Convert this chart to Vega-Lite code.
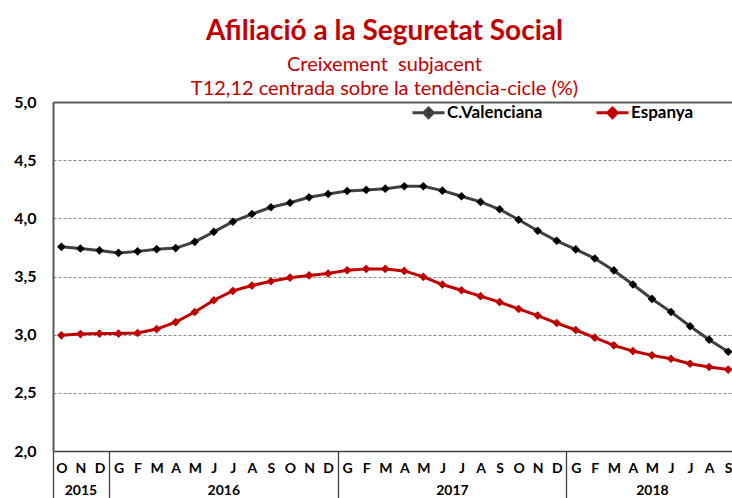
{
  "$schema": "https://vega.github.io/schema/vega-lite/v6.json",
  "width": 679,
  "height": 349,
  "autosize": {"type": "none"},
  "padding": {"left": 53, "top": 102, "right": 0, "bottom": 47},
  "background": "white",
  "config": {"font": "Lato", "view": {"stroke": null}},
  "title": {
    "text": "Afiliació a la Seguretat Social",
    "subtitle": ["Creixement\u00a0 subjacent", "T12,12 centrada sobre la tendència-cicle (%)"],
    "anchor": "middle",
    "frame": "group",
    "dx": -8,
    "font": "Lato",
    "fontSize": 28,
    "fontWeight": "bold",
    "color": "#C00000",
    "subtitleFont": "Lato",
    "subtitleFontSize": 20,
    "subtitleColor": "#C00000",
    "subtitleLineHeight": 24,
    "subtitlePadding": 9,
    "offset": -5
  },
  "data": {"values": [
    {"i":0,"serie":"C.Valenciana","v":3.755},{"i":1,"serie":"C.Valenciana","v":3.741},{"i":2,"serie":"C.Valenciana","v":3.724},
    {"i":3,"serie":"C.Valenciana","v":3.703},{"i":4,"serie":"C.Valenciana","v":3.716},{"i":5,"serie":"C.Valenciana","v":3.735},
    {"i":6,"serie":"C.Valenciana","v":3.744},{"i":7,"serie":"C.Valenciana","v":3.798},{"i":8,"serie":"C.Valenciana","v":3.884},
    {"i":9,"serie":"C.Valenciana","v":3.971},{"i":10,"serie":"C.Valenciana","v":4.037},{"i":11,"serie":"C.Valenciana","v":4.095},
    {"i":12,"serie":"C.Valenciana","v":4.134},{"i":13,"serie":"C.Valenciana","v":4.181},{"i":14,"serie":"C.Valenciana","v":4.209},
    {"i":15,"serie":"C.Valenciana","v":4.235},{"i":16,"serie":"C.Valenciana","v":4.244},{"i":17,"serie":"C.Valenciana","v":4.255},
    {"i":18,"serie":"C.Valenciana","v":4.276},{"i":19,"serie":"C.Valenciana","v":4.276},{"i":20,"serie":"C.Valenciana","v":4.238},
    {"i":21,"serie":"C.Valenciana","v":4.19},{"i":22,"serie":"C.Valenciana","v":4.141},{"i":23,"serie":"C.Valenciana","v":4.078},
    {"i":24,"serie":"C.Valenciana","v":3.988},{"i":25,"serie":"C.Valenciana","v":3.893},{"i":26,"serie":"C.Valenciana","v":3.807},
    {"i":27,"serie":"C.Valenciana","v":3.733},{"i":28,"serie":"C.Valenciana","v":3.655},{"i":29,"serie":"C.Valenciana","v":3.552},
    {"i":30,"serie":"C.Valenciana","v":3.431},{"i":31,"serie":"C.Valenciana","v":3.307},{"i":32,"serie":"C.Valenciana","v":3.195},
    {"i":33,"serie":"C.Valenciana","v":3.072},{"i":34,"serie":"C.Valenciana","v":2.957},{"i":35,"serie":"C.Valenciana","v":2.853},
    {"i":0,"serie":"Espanya","v":2.994},{"i":1,"serie":"Espanya","v":3.005},{"i":2,"serie":"Espanya","v":3.009},
    {"i":3,"serie":"Espanya","v":3.009},{"i":4,"serie":"Espanya","v":3.014},{"i":5,"serie":"Espanya","v":3.048},
    {"i":6,"serie":"Espanya","v":3.108},{"i":7,"serie":"Espanya","v":3.195},{"i":8,"serie":"Espanya","v":3.296},
    {"i":9,"serie":"Espanya","v":3.376},{"i":10,"serie":"Espanya","v":3.422},{"i":11,"serie":"Espanya","v":3.459},
    {"i":12,"serie":"Espanya","v":3.49},{"i":13,"serie":"Espanya","v":3.509},{"i":14,"serie":"Espanya","v":3.526},
    {"i":15,"serie":"Espanya","v":3.554},{"i":16,"serie":"Espanya","v":3.565},{"i":17,"serie":"Espanya","v":3.565},
    {"i":18,"serie":"Espanya","v":3.548},{"i":19,"serie":"Espanya","v":3.497},{"i":20,"serie":"Espanya","v":3.431},
    {"i":21,"serie":"Espanya","v":3.382},{"i":22,"serie":"Espanya","v":3.331},{"i":23,"serie":"Espanya","v":3.28},
    {"i":24,"serie":"Espanya","v":3.221},{"i":25,"serie":"Espanya","v":3.164},{"i":26,"serie":"Espanya","v":3.1},
    {"i":27,"serie":"Espanya","v":3.04},{"i":28,"serie":"Espanya","v":2.974},{"i":29,"serie":"Espanya","v":2.908},
    {"i":30,"serie":"Espanya","v":2.859},{"i":31,"serie":"Espanya","v":2.822},{"i":32,"serie":"Espanya","v":2.793},
    {"i":33,"serie":"Espanya","v":2.75},{"i":34,"serie":"Espanya","v":2.722},{"i":35,"serie":"Espanya","v":2.7}
  ]},
  "encoding": {
    "y": {
      "field": "v",
      "type": "quantitative",
      "scale": {"domain": [2, 5], "nice": false, "zero": false},
      "axis": {
        "title": null,
        "values": [2, 2.5, 3, 3.5, 4, 4.5, 5],
        "labelExpr": "replace(format(datum.value, '.1f'), '.', ',')",
        "labelFont": "Lato",
        "labelFontSize": 16,
        "labelFontWeight": "bold",
        "labelColor": "#000000",
        "labelPadding": 17,
        "ticks": false,
        "domain": true,
        "domainColor": "#595959",
        "domainWidth": 2,
        "grid": true,
        "gridColor": {"condition": {"test": "datum.value === 5", "value": "#595959"}, "value": "#8c8c8c"},
        "gridDash": {"condition": {"test": "datum.value === 5", "value": []}, "value": [3, 2]},
        "gridWidth": {"condition": {"test": "datum.value === 5", "value": 2}, "value": 1}
      }
    }
  },
  "layer": [
    {
      "mark": {"type": "line", "strokeWidth": 3},
      "encoding": {
        "x": {
          "field": "i",
          "type": "quantitative",
          "scale": {"domain": [-0.44, 35.2], "nice": false, "zero": false},
          "axis": {
            "orient": "bottom",
            "title": null,
            "values": [0,1,2,3,4,5,6,7,8,9,10,11,12,13,14,15,16,17,18,19,20,21,22,23,24,25,26,27,28,29,30,31,32,33,34,35],
            "labelExpr": "['O','N','D','G','F','M','A','M','J','J','A','S'][datum.value % 12]",
            "labelFont": "Lato",
            "labelFontSize": 14,
            "labelFontWeight": "bold",
            "labelColor": "#000000",
            "labelPadding": 10,
            "labelOverlap": false,
            "labelBound": false,
            "labelFlush": false,
            "ticks": false,
            "grid": false,
            "domain": true,
            "domainColor": "#404040",
            "domainWidth": 1.5
          }
        },
        "color": {
          "field": "serie",
          "type": "nominal",
          "scale": {"domain": ["C.Valenciana", "Espanya"], "range": ["#404040", "#C00000"]},
          "legend": {
            "orient": "none",
            "legendX": 358,
            "legendY": -7,
            "direction": "horizontal",
            "title": null,
            "symbolType": "M-1,0L1,0M0,-0.3L0.3,0L0,0.3L-0.3,0Z",
            "symbolSize": 1024,
            "symbolStrokeWidth": 3,
            "labelFont": "Lato",
            "labelFontSize": 17,
            "labelFontWeight": "bold",
            "labelColor": "#000000",
            "labelOffset": 1,
            "columnPadding": 47,
            "encode": {"symbols": {"update": {"fill": {"scale": "color", "field": "value"}, "opacity": {"value": 1}}}}
          }
        }
      }
    },
    {
      "mark": {"type": "point", "shape": "diamond", "filled": true, "size": 75, "opacity": 1},
      "encoding": {
        "x": {"field": "i", "type": "quantitative", "axis": null},
        "fill": {
          "field": "serie",
          "type": "nominal",
          "scale": {"domain": ["C.Valenciana", "Espanya"], "range": ["#000000", "#C00000"]},
          "legend": null
        }
      }
    },
    {
      "mark": {"type": "point", "opacity": 0},
      "encoding": {
        "x": {
          "field": "i",
          "type": "quantitative",
          "axis": {
            "orient": "bottom",
            "title": null,
            "values": [-0.44, 2.5, 14.5, 26.5],
            "labels": false,
            "domain": false,
            "grid": false,
            "ticks": true,
            "tickSize": 48,
            "tickColor": "#404040",
            "tickWidth": 1.3
          }
        }
      }
    },
    {
      "mark": {"type": "point", "opacity": 0},
      "encoding": {
        "x": {
          "field": "i",
          "type": "quantitative",
          "axis": {
            "orient": "bottom",
            "title": null,
            "values": [1, 8.5, 20.5, 31],
            "labelExpr": "datum.value < 2 ? '2015' : datum.value < 10 ? '2016' : datum.value < 25 ? '2017' : '2018'",
            "labelFont": "Lato",
            "labelFontSize": 14,
            "labelFontWeight": "bold",
            "labelColor": "#000000",
            "labelPadding": 32,
            "labelOverlap": false,
            "labelBound": false,
            "labelFlush": false,
            "ticks": false,
            "domain": false,
            "grid": false
          }
        }
      }
    }
  ],
  "resolve": {"axis": {"x": "independent"}}
}
